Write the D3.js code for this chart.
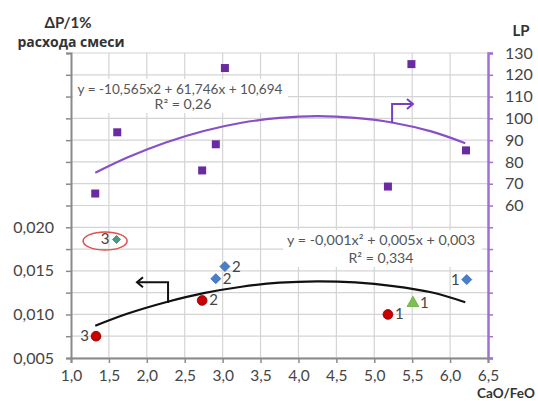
<!DOCTYPE html>
<html><head><meta charset="utf-8">
<script src="https://cdn.jsdelivr.net/npm/d3@7"></script>
<style>body{margin:0;background:#fff}svg{display:block}</style>
</head><body><svg id="c" width="538" height="401"></svg>
<script>
// ---- tick definitions ----
const xTickValues = [1.0,1.5,2.0,2.5,3.0,3.5,4.0,4.5,5.0,5.5,6.0,6.5];
const xTickLabels = ["1,0","1,5","2,0","2,5","3,0","3,5","4,0","4,5","5,0","5,5","6,0","6,5"];
const leftTickValues = [0.005,0.0075,0.010,0.0125,0.015,0.0175,0.020,0.0225,0.025,0.0275,0.030,0.0325,0.035,0.0375,0.040];
const leftTickLabels = ["0,005","","0,010","","0,015","","0,020","","","","","","","",""];
const rightTickValues = [-10,0,10,20,30,40,50,60,70,80,90,100,110,120,130];
const rightTickLabels = ["","","","","","","","60","70","80","90","100","110","120","130"];

// ---- LP series (right axis) ----
const lpX = [1.32,1.61,2.73,2.91,3.03,5.18,5.49,6.21];
const lpY = [65.5,93.6,76.1,88.1,123.1,68.7,124.9,85.3];
// LP trend line
const lpTrendX = [1.32,1.75,2.25,2.75,3.25,3.75,4.25,4.75,5.25,5.75,6.2];
const lpTrendY = [75.0,82.1,88.9,94.2,98.0,100.2,101.0,100.2,98.0,94.0,88.6];

// ---- ΔP series (left axis) ----
const redX = [1.33,2.73,5.18];
const redY = [0.0075,0.0116,0.0100];
const redLabels = ["3","2","1"];
const blueX = [2.91,3.03,6.22];
const blueY = [0.0141,0.0155,0.0140];
const blueLabels = ["2","2","1"];
const greenX = [5.51];
const greenY = [0.0113];
const greenLabels = ["1"];
const tealX = [1.60];
const tealY = [0.0186];
const tealLabels = ["3"];
// ΔP trend line
const dpTrendX = [1.32,1.75,2.25,2.75,3.25,3.75,4.25,4.75,5.25,5.75,6.2];
const dpTrendY = [0.0087,0.0101,0.0114,0.01244,0.01318,0.01364,0.0138,0.01367,0.01325,0.01254,0.0114];

const eqTop = ["y = -10,565x2 + 61,746x + 10,694","R² = 0,26"];
const eqBottom = ["y = -0,001x² + 0,005x + 0,003","R² = 0,334"];

// ---- layout ----
const svg = d3.select("#c");
const L = 71, R = 488, T = 53, B = 358;
const x = d3.scaleLinear().domain([1,6.5]).range([L,R]);
const yL = d3.scaleLinear().domain([0.005,0.040]).range([B,T]);
const yR = d3.scaleLinear().domain([-10,130]).range([B,T]);
const FONT = "Lato, 'Open Sans', 'DejaVu Sans', sans-serif";
const TXT = "#454545";

// grid
const g = svg.append("g");
g.selectAll("line.h").data(rightTickValues).join("line")
  .attr("x1",L).attr("x2",R).attr("y1",d=>yR(d)).attr("y2",d=>yR(d))
  .attr("stroke","#d4d4d4").attr("stroke-width",1.2);
g.selectAll("line.v").data(xTickValues.slice(1,-1)).join("line")
  .attr("x1",d=>x(d)).attr("x2",d=>x(d)).attr("y1",T).attr("y2",B)
  .attr("stroke","#d4d4d4").attr("stroke-width",1.2);

// equation boxes (white background)
function eqBox(x0, y0, w, h){
  const gg = svg.append("g");
  gg.append("rect").attr("x",x0).attr("y",y0).attr("width",w).attr("height",h).attr("fill","#fff");
  return gg;
}
const topEqG = eqBox(73, 79, 215, 34);
const botEqG = eqBox(283, 230, 199, 37);

// axes
const axL = svg.append("g").attr("transform",`translate(${L},0)`)
  .call(d3.axisLeft(yL).tickValues(leftTickValues).tickSize(5).tickPadding(12)
    .tickFormat((d,i)=>leftTickLabels[i]));
axL.select(".domain").attr("stroke","#8a8a8a").attr("stroke-width",2);
axL.selectAll(".tick line").attr("stroke","#8a8a8a").attr("stroke-width",1.5);
axL.selectAll("text").attr("font-family",FONT).attr("font-size",16).attr("fill",TXT);

const axR = svg.append("g").attr("transform",`translate(${R},0)`)
  .call(d3.axisRight(yR).tickValues(rightTickValues).tickSize(5).tickPadding(12)
    .tickFormat((d,i)=>rightTickLabels[i]));
axR.select(".domain").attr("stroke","#a070d6").attr("stroke-width",2.5);
axR.selectAll(".tick line").attr("stroke","#a070d6").attr("stroke-width",1.5);
axR.selectAll("text").attr("font-family",FONT).attr("font-size",16).attr("fill",TXT);

const axB = svg.append("g").attr("transform",`translate(0,${B})`)
  .call(d3.axisBottom(x).tickValues(xTickValues).tickSize(5).tickPadding(7)
    .tickFormat((d,i)=>xTickLabels[i]));
axB.select(".domain").attr("stroke","#8a8a8a").attr("stroke-width",2);
axB.selectAll(".tick line").attr("stroke","#8a8a8a").attr("stroke-width",1.5);
axB.selectAll("text").attr("font-family",FONT).attr("font-size",15.5).attr("fill",TXT);

// titles
svg.append("text").attr("x",68).attr("y",28).attr("text-anchor","middle")
  .attr("font-family",FONT).attr("font-weight","bold").attr("font-size",15).attr("fill","#333").text("ΔP/1%");
svg.append("text").attr("x",71).attr("y",47).attr("text-anchor","middle")
  .attr("font-family","'Open Sans', sans-serif").attr("font-weight","bold").attr("font-size",14).attr("fill","#333").text("расхода смеси");
svg.append("text").attr("x",521).attr("y",36).attr("text-anchor","middle")
  .attr("font-family",FONT).attr("font-weight","bold").attr("font-size",15).attr("fill","#333").text("LP");
svg.append("text").attr("x",506).attr("y",398).attr("text-anchor","middle")
  .attr("font-family",FONT).attr("font-weight","bold").attr("font-size",13.5).attr("fill","#333").text("CaO/FeO");

// equation text
const topW = [205, 57], botW = [188, 65];
topEqG.selectAll("text").data(eqTop).join("text")
  .attr("x",(d,i)=> i===0?180:183).attr("y",(d,i)=>94+i*15).attr("text-anchor","middle")
  .attr("textLength",(d,i)=>topW[i]).attr("lengthAdjust","spacingAndGlyphs")
  .attr("font-family",FONT).attr("font-size",12.5).attr("fill","#555").text(d=>d);
botEqG.selectAll("text").data(eqBottom).join("text")
  .attr("x",381).attr("y",(d,i)=>245+i*18).attr("text-anchor","middle")
  .attr("textLength",(d,i)=>botW[i]).attr("lengthAdjust","spacingAndGlyphs")
  .attr("font-family",FONT).attr("font-size",13.5).attr("fill","#555").text(d=>d);

// trend lines
const lineR = d3.line().x(d=>x(d[0])).y(d=>yR(d[1])).curve(d3.curveCatmullRom);
svg.append("path").attr("d",lineR(d3.zip(lpTrendX,lpTrendY)))
  .attr("fill","none").attr("stroke","#8a4fc8").attr("stroke-width",2.2);
const lineL = d3.line().x(d=>x(d[0])).y(d=>yL(d[1])).curve(d3.curveCatmullRom);
svg.append("path").attr("d",lineL(d3.zip(dpTrendX,dpTrendY)))
  .attr("fill","none").attr("stroke","#111").attr("stroke-width",2.2);

// arrows (annotation, data units)
const arrowUpper = [[5.235,97.9],[5.235,106.6],[5.51,106.6]];
const arrowLower = [[2.28,0.0113],[2.28,0.0137],[1.87,0.0137]];
const lin = d3.line();
const pu = arrowUpper.map(d=>[x(d[0]),yR(d[1])]);
svg.append("path").attr("d",lin(pu)).attr("fill","none").attr("stroke","#7a3fc0").attr("stroke-width",2);
const eu = pu[2];
svg.append("path").attr("d",lin([[eu[0]-6,eu[1]-5],[eu[0],eu[1]],[eu[0]-6,eu[1]+5]]))
  .attr("fill","none").attr("stroke","#7a3fc0").attr("stroke-width",2);
const pl = arrowLower.map(d=>[x(d[0]),yL(d[1])]);
svg.append("path").attr("d",lin(pl)).attr("fill","none").attr("stroke","#111").attr("stroke-width",2);
const el = pl[2];
svg.append("path").attr("d",lin([[el[0]+6,el[1]-5],[el[0],el[1]],[el[0]+6,el[1]+5]]))
  .attr("fill","none").attr("stroke","#111").attr("stroke-width",2);

// LP squares
svg.selectAll("rect.lp").data(d3.zip(lpX,lpY)).join("rect")
  .attr("x",d=>x(d[0])-4).attr("y",d=>yR(d[1])-4).attr("width",8).attr("height",8)
  .attr("fill","#6a2ba0");

// ΔP markers
function markers(xs,ys,type,size,rot,fill,stroke){
  svg.selectAll(null).data(d3.zip(xs,ys)).join("path")
    .attr("transform",d=>`translate(${x(d[0])},${yL(d[1])}) rotate(${rot})`)
    .attr("d",d3.symbol().type(type).size(size)()).attr("fill",fill).attr("stroke",stroke).attr("stroke-width",0.8);
}
markers(redX,redY,d3.symbolCircle,75,0,"#c80000","#8a0000");
markers(blueX,blueY,d3.symbolSquare,50,45,"#4a7ec6","#3c6db0");
markers(greenX,greenY,d3.symbolTriangle,60,0,"#7cc04f","#6aaa40");
markers(tealX,tealY,d3.symbolSquare,32,45,"#4a9a86","#3b8572");

// point labels
function labels(xs,ys,ls,sides){
  svg.selectAll(null).data(d3.zip(xs,ys,ls,sides)).join("text")
    .attr("x",d=>x(d[0]) + (d[3]==="r"?7:-7))
    .attr("y",d=>yL(d[1])+5)
    .attr("text-anchor",d=>d[3]==="r"?"start":"end")
    .attr("font-family",FONT).attr("font-size",15).attr("fill","#444").text(d=>d[2]);
}
labels(redX,redY,redLabels,["l","r","r"]);
labels(blueX,blueY,blueLabels,["r","r","l"]);
labels(greenX,greenY,greenLabels,["r"]);
labels(tealX,tealY,tealLabels,["l"]);

// red highlight ellipse
svg.append("ellipse").attr("cx",x(1.45)).attr("cy",yL(0.01843)).attr("rx",22).attr("ry",9)
  .attr("fill","none").attr("stroke","#e05050").attr("stroke-width",1.5);
</script></body></html>
